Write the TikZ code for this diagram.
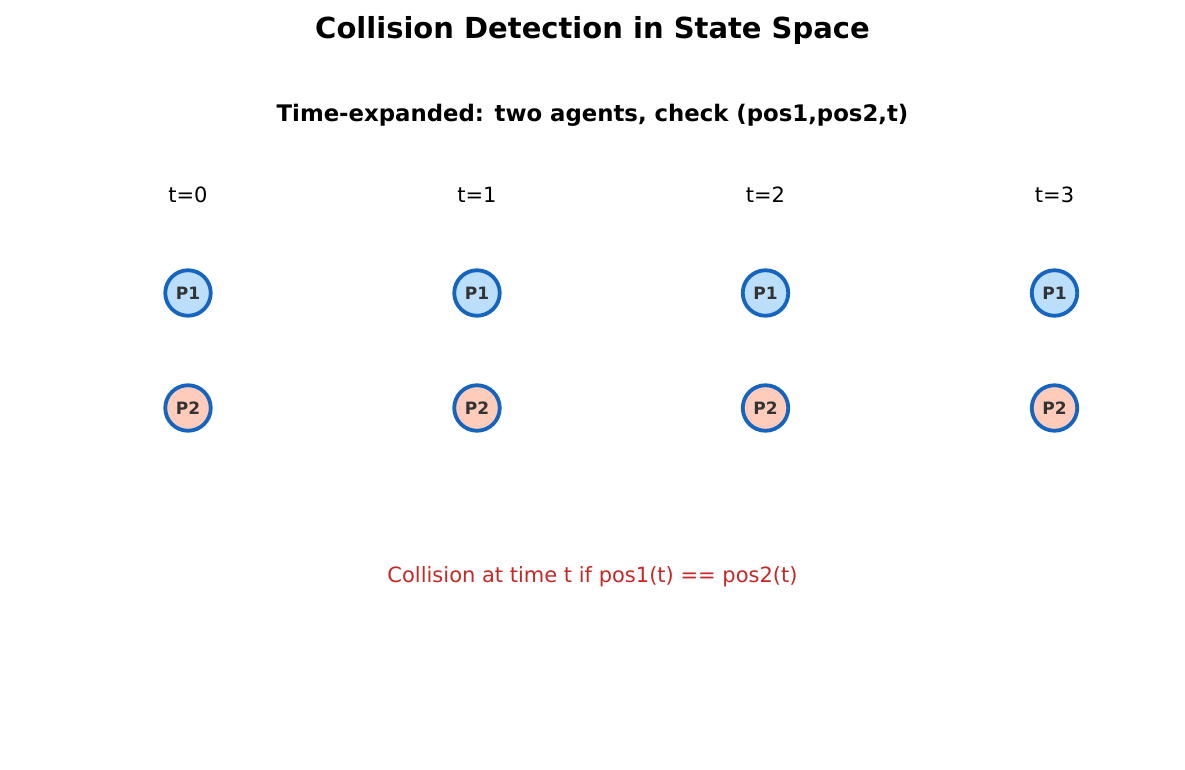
\documentclass[tikz,border=0pt]{standalone}
\usepackage{fontspec}
\setmainfont{DejaVu Sans}
\usepackage{tikz}
\usetikzlibrary{positioning}

\definecolor{agentedge}{HTML}{1565C0}
\definecolor{agentone}{HTML}{BBDEFB}
\definecolor{agenttwo}{HTML}{FFCCBC}
\definecolor{agenttext}{HTML}{333333}
\definecolor{collide}{HTML}{C62828}

\begin{document}
\begin{tikzpicture}
    [
    x=1pt,y=-1pt,
    agent/.style={circle,draw=agentedge,line width=3.8pt,inner sep=0pt,minimum size=45.5pt,
      text=agenttext,font=\fontsize{17}{20}\selectfont\bfseries},
    pone/.style={agent,fill=agentone},
    ptwo/.style={agent,fill=agenttwo},
    time/.style={font=\fontsize{21}{25}\selectfont},
    ]
    \useasboundingbox (0,0) rectangle (1185,770);

    \node (title) at (592.5,31) [font=\fontsize{29}{34}\selectfont\bfseries] {Collision Detection in State Space};
    \node (sub) at (592.5,115) [font=\fontsize{22.8}{27}\selectfont\bfseries] {Time-expanded: two agents, check (pos1,pos2,t)};

    \node (t0) at (188,195) [time] {t=0};
    \node (t1) at (477,195) [time] {t=1};
    \node (t2) at (765.5,195) [time] {t=2};
    \node (t3) at (1054.5,195) [time] {t=3};

    \node (a0) at (188,293) [pone] {P1};
    \node (a1) at (477,293) [pone] {P1};
    \node (a2) at (765.5,293) [pone] {P1};
    \node (a3) at (1054.5,293) [pone] {P1};

    \node (b0) at (188,408) [ptwo] {P2};
    \node (b1) at (477,408) [ptwo] {P2};
    \node (b2) at (765.5,408) [ptwo] {P2};
    \node (b3) at (1054.5,408) [ptwo] {P2};

    \node (rule) at (592.5,577) [time,text=collide] {Collision at time t if pos1(t) == pos2(t)};
  \end{tikzpicture}
\end{document}
